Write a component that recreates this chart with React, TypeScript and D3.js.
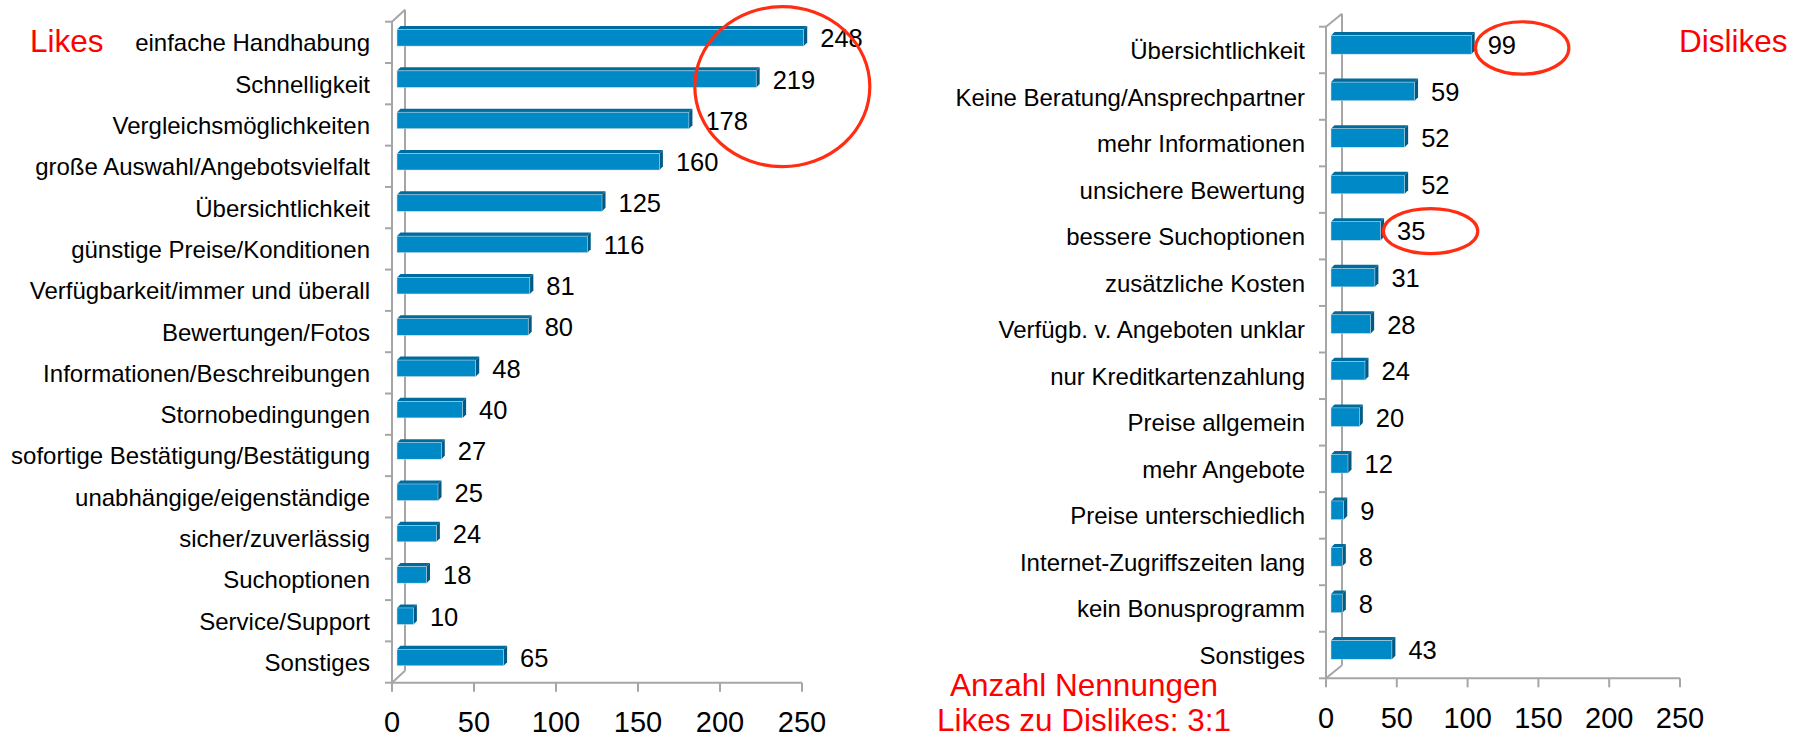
import React from "react";
import * as d3 from "d3";

const likeCategories = [
  "einfache Handhabung",
  "Schnelligkeit",
  "Vergleichsmöglichkeiten",
  "große Auswahl/Angebotsvielfalt",
  "Übersichtlichkeit",
  "günstige Preise/Konditionen",
  "Verfügbarkeit/immer und überall",
  "Bewertungen/Fotos",
  "Informationen/Beschreibungen",
  "Stornobedingungen",
  "sofortige Bestätigung/Bestätigung",
  "unabhängige/eigenständige",
  "sicher/zuverlässig",
  "Suchoptionen",
  "Service/Support",
  "Sonstiges",
];
const likeValues = [248, 219, 178, 160, 125, 116, 81, 80, 48, 40, 27, 25, 24, 18, 10, 65];

const dislikeCategories = [
  "Übersichtlichkeit",
  "Keine Beratung/Ansprechpartner",
  "mehr Informationen",
  "unsichere Bewertung",
  "bessere Suchoptionen",
  "zusätzliche Kosten",
  "Verfügb. v. Angeboten unklar",
  "nur Kreditkartenzahlung",
  "Preise allgemein",
  "mehr Angebote",
  "Preise unterschiedlich",
  "Internet-Zugriffszeiten lang",
  "kein Bonusprogramm",
  "Sonstiges",
];
const dislikeValues = [99, 59, 52, 52, 35, 31, 28, 24, 20, 12, 9, 8, 8, 43];

const xTicks = [0, 50, 100, 150, 200, 250];

const FONT = '"Liberation Sans", Arial, Helvetica, sans-serif';
const AXIS = "#a6a6a6";
const FRONT = "#0089c7";
const TOP = "#006c9e";
const SIDE = "#005a85";
const RING = "#ff2e12";
const RED = "#ff0000";

type PanelProps = {
  cats: string[];
  vals: number[];
  x0: number;
  x1: number;
  yTop: number;
  yBot: number;
  depthX: number;
  depthY: number;
  labelRight: number;
  tickBaseline: number;
  children?: (x: d3.ScaleLinear<number, number>, y: d3.ScaleBand<string>) => React.ReactNode;
};

function Panel({ cats, vals, x0, x1, yTop, yBot, depthX, depthY, labelRight, tickBaseline, children }: PanelProps) {
  const x = d3.scaleLinear().domain([0, 250]).range([x0, x1]);
  const y = d3.scaleBand<string>().domain(cats).range([yTop, yBot]).padding(0);
  const bw = y.bandwidth();
  const off = 5;
  const d = 3.5;
  const boundaries = d3.range(cats.length + 1).map((i) => yTop + i * bw);
  return (
    <g>
      <line x1={x0 + depthX} y1={yTop - depthY} x2={x0 + depthX} y2={yBot - depthY} stroke={AXIS} strokeWidth={2} />
      <line x1={x0} y1={yTop} x2={x0 + depthX} y2={yTop - depthY} stroke={AXIS} strokeWidth={2} />
      <line x1={x0} y1={yBot} x2={x0 + depthX} y2={yBot - depthY} stroke={AXIS} strokeWidth={2} />
      <line x1={x0} y1={yTop} x2={x0} y2={yBot} stroke={AXIS} strokeWidth={2} />
      {boundaries.map((b, i) => (
        <line key={"yt" + i} x1={x0 - 7} y1={b} x2={x0} y2={b} stroke={AXIS} strokeWidth={2} />
      ))}
      <line x1={x0} y1={yBot} x2={x1} y2={yBot} stroke={AXIS} strokeWidth={2} />
      {xTicks.map((t) => (
        <g key={"xt" + t}>
          <line x1={x(t)} y1={yBot} x2={x(t)} y2={yBot + 9} stroke={AXIS} strokeWidth={2} />
          <text x={x(t)} y={tickBaseline} textAnchor="middle" fontFamily={FONT} fontSize={29} fill="#000">
            {t}
          </text>
        </g>
      ))}
      {cats.map((c, i) => {
        const v = vals[i];
        const top = (y(c) as number) + 0.19 * bw;
        const h = 0.4 * bw;
        const left = x(0) + off;
        const right = x(v) + off;
        return (
          <g key={"b" + i}>
            <polygon
              points={`${left},${top} ${left + d},${top - d} ${right + d},${top - d} ${right},${top}`}
              fill={TOP}
            />
            <polygon
              points={`${right},${top} ${right + d},${top - d} ${right + d},${top + h - d} ${right},${top + h}`}
              fill={SIDE}
            />
            <rect x={left} y={top} width={right - left} height={h} fill={FRONT} stroke="#d3dfe6" strokeWidth={0.5} />
            <text
              x={right + d + 13}
              y={top + h / 2}
              dy="0.37em"
              fontFamily={FONT}
              fontSize={25.5}
              fill="#000"
            >
              {v}
            </text>
          </g>
        );
      })}
      {cats.map((c, i) => (
        <text
          key={"c" + i}
          x={labelRight}
          y={(y(c) as number) + bw / 2 + 9}
          textAnchor="end"
          fontFamily={FONT}
          fontSize={24}
          fill="#000"
        >
          {c}
        </text>
      ))}
      {children ? children(x, y) : null}
    </g>
  );
}

export default function App() {
  return (
    <svg
      width={1800}
      height={738}
      viewBox="0 0 1800 738"
      style={{ position: "absolute", left: 0, top: 0, background: "#fff" }}
    >
      <rect width={1800} height={738} fill="#fff" />
      <Panel
        cats={likeCategories}
        vals={likeValues}
        x0={392}
        x1={802}
        yTop={21.7}
        yBot={682.7}
        depthX={13}
        depthY={12}
        labelRight={370}
        tickBaseline={732}
      >
        {(x, y) => (
          <ellipse
            cx={x(238)}
            cy={(y(likeCategories[1]) as number) + y.bandwidth() / 2 + 3}
            rx={87.5}
            ry={80}
            fill="none"
            stroke={RING}
            strokeWidth={3.2}
          />
        )}
      </Panel>
      <Panel
        cats={dislikeCategories}
        vals={dislikeValues}
        x0={1326}
        x1={1680}
        yTop={26.7}
        yBot={678.3}
        depthX={16}
        depthY={13}
        labelRight={1305}
        tickBaseline={728}
      >
        {(x, y) => (
          <g>
            <ellipse
              cx={x(dislikeValues[0]) + 56}
              cy={(y(dislikeCategories[0]) as number) + y.bandwidth() / 2 - 2}
              rx={46.7}
              ry={26.2}
              fill="none"
              stroke={RING}
              strokeWidth={3.2}
            />
            <ellipse
              cx={x(dislikeValues[4]) + 55}
              cy={(y(dislikeCategories[4]) as number) + y.bandwidth() / 2 - 5}
              rx={47.2}
              ry={22.5}
              fill="none"
              stroke={RING}
              strokeWidth={3.2}
            />
          </g>
        )}
      </Panel>
      <text x={30} y={51.7} fontFamily={FONT} fontSize={31.5} fill={RED}>
        Likes
      </text>
      <text x={1679} y={51.7} fontFamily={FONT} fontSize={31.5} fill={RED}>
        Dislikes
      </text>
      <text x={1084} y={695.5} textAnchor="middle" fontFamily={FONT} fontSize={31.5} fill={RED}>
        Anzahl Nennungen
      </text>
      <text x={1084} y={731} textAnchor="middle" fontFamily={FONT} fontSize={31.5} fill={RED}>
        Likes zu Dislikes: 3:1
      </text>
    </svg>
  );
}
